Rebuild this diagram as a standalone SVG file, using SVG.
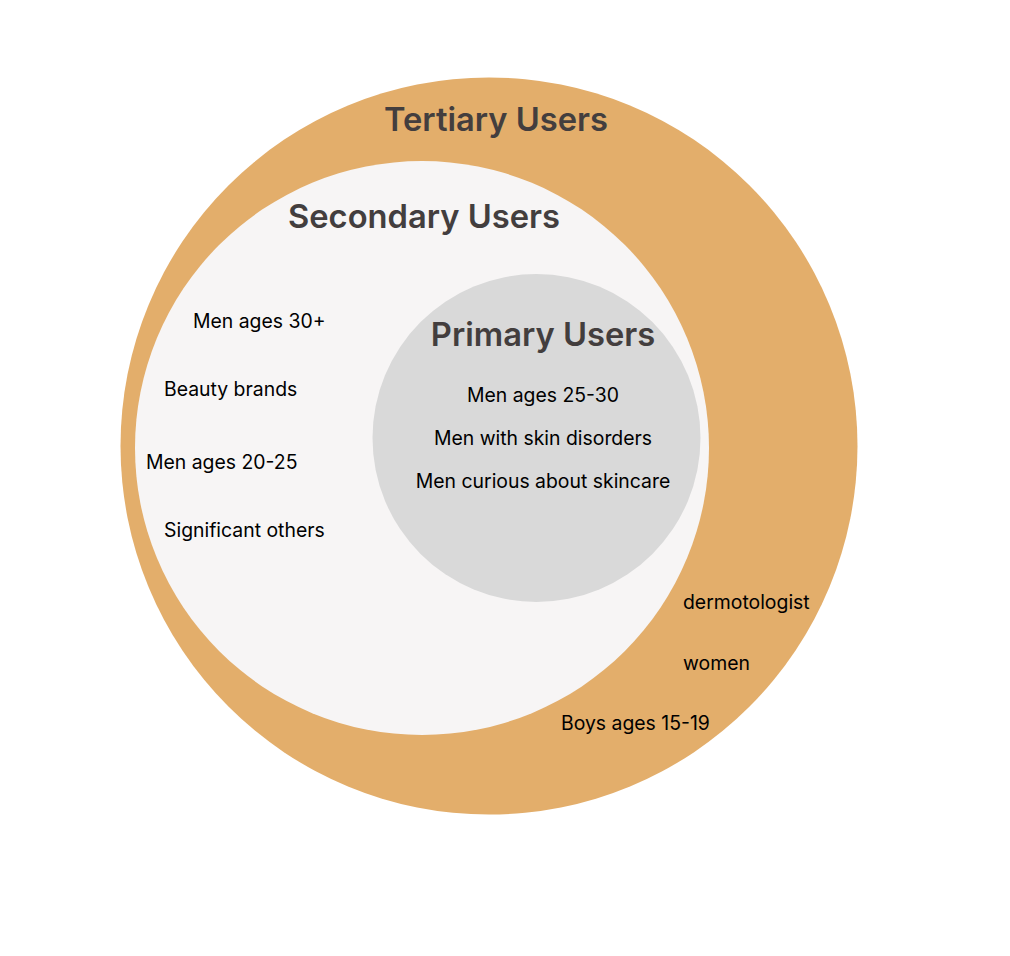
<svg xmlns="http://www.w3.org/2000/svg" width="1010" height="956" viewBox="0 0 1010 956">
<style>
.title{font-family:Inter,"Liberation Sans",sans-serif;font-weight:600;font-size:32.7px;fill:#433e3e}
.item{font-family:Inter,"Liberation Sans",sans-serif;font-size:19.4px;fill:#000}
</style>
<rect width="1010" height="956" fill="#fff"/>
<g id="tertiary">
<circle cx="489" cy="446" r="368.5" fill="#e3ae6b"/>
<text class="title" x="496" y="131" text-anchor="middle">Tertiary Users</text>
<text class="item" x="683" y="609">dermotologist</text>
<text class="item" x="683" y="670">women</text>
<text class="item" x="561" y="730">Boys ages 15-19</text>
</g>
<g id="secondary">
<circle cx="422" cy="448" r="287" fill="#f7f5f5"/>
<text class="title" x="424" y="228" text-anchor="middle">Secondary Users</text>
<text class="item" x="193" y="328">Men ages 30+</text>
<text class="item" x="164" y="396">Beauty brands</text>
<text class="item" x="146" y="469">Men ages 20-25</text>
<text class="item" x="164" y="537">Significant others</text>
</g>
<g id="primary">
<circle cx="536.5" cy="438" r="164" fill="#d9d9d9"/>
<text class="title" x="543" y="346" text-anchor="middle">Primary Users</text>
<text class="item" x="543" y="402" text-anchor="middle">Men ages 25-30</text>
<text class="item" x="543" y="445" text-anchor="middle">Men with skin disorders</text>
<text class="item" x="543" y="488" text-anchor="middle">Men curious about skincare</text>
</g>
<g id="connectors"/>
</svg>
